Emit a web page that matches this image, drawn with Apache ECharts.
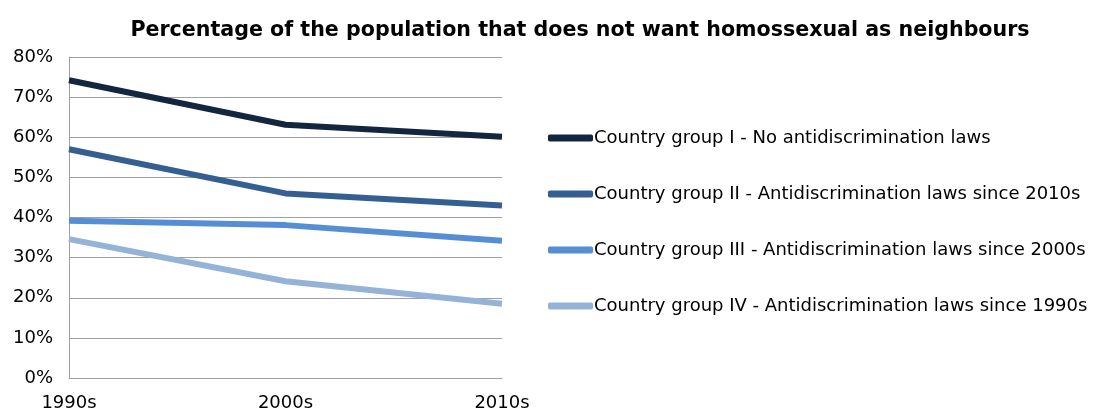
<!DOCTYPE html>
<html>
<head>
<meta charset="utf-8">
<script src="https://cdn.jsdelivr.net/npm/echarts@6/dist/echarts.min.js"></script>
<style>
  html, body { margin: 0; padding: 0; background: #fff; }
  #chart { width: 1104px; height: 412px; }
</style>
</head>
<body>
<div id="chart"></div>
<script>
var categories = ['1990s', '2000s', '2010s'];
var seriesNames = [
  'Country group I - No antidiscrimination laws',
  'Country group II - Antidiscrimination laws since 2010s',
  'Country group III - Antidiscrimination laws since 2000s',
  'Country group IV - Antidiscrimination laws since 1990s'
];
var groupI = [74.2, 63.1, 60.1];
var groupII = [57.0, 46.0, 43.0];
var groupIII = [39.2, 38.1, 34.2];
var groupIV = [34.6, 24.1, 18.5];
var colors = ['#13263f', '#355f91', '#558ed5', '#95b3d7'];

var font = 'DejaVu Sans, Arial, sans-serif';
var myChart = echarts.init(document.getElementById('chart'));

function makeSeries(name, data, color) {
  return {
    name: name,
    type: 'line',
    data: data,
    showSymbol: false,
    symbol: 'none',
    color: color,
    lineStyle: { width: 6, color: color },
    animation: false
  };
}

myChart.setOption({
  animation: false,
  title: {
    text: 'Percentage of the population that does not want homossexual as neighbours',
    left: 575,
    textAlign: 'center',
    top: 15,
    textStyle: { fontFamily: font, fontSize: 20.6, fontWeight: 'bold', color: '#000' }
  },
  grid: { left: 69, right: 602, top: 57, bottom: 33 },
  legend: {
    orient: 'vertical',
    left: 543,
    top: 124,
    itemGap: 38,
    itemWidth: 45,
    itemHeight: 7,
    icon: 'roundRect',
    textStyle: { fontFamily: font, fontSize: 18, color: '#000', padding: [0, 0, 0, -4] },
    data: seriesNames
  },
  xAxis: {
    type: 'category',
    data: categories,
    boundaryGap: false,
    axisLine: { show: true, lineStyle: { color: '#a0a0a0', width: 1 } },
    axisTick: { show: false },
    axisLabel: { fontFamily: font, fontSize: 18, color: '#000', margin: 16 },
    splitLine: { show: false }
  },
  yAxis: {
    type: 'value',
    min: 0,
    max: 80,
    interval: 10,
    axisLine: { show: true, lineStyle: { color: '#a0a0a0', width: 1 } },
    axisTick: { show: false },
    axisLabel: { fontFamily: font, fontSize: 18, color: '#000', margin: 16, formatter: '{value}%' },
    splitLine: { show: true, lineStyle: { color: '#a0a0a0', width: 1 } }
  },
  series: [
    makeSeries(seriesNames[0], groupI, colors[0]),
    makeSeries(seriesNames[1], groupII, colors[1]),
    makeSeries(seriesNames[2], groupIII, colors[2]),
    makeSeries(seriesNames[3], groupIV, colors[3])
  ]
});
</script>
</body>
</html>
